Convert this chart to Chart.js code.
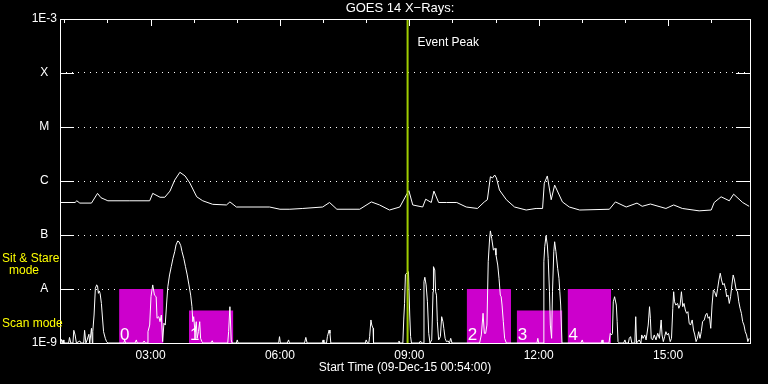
<!DOCTYPE html>
<html>
<head>
<meta charset="utf-8">
<title>GOES 14 X-Rays</title>
<script src="https://cdn.jsdelivr.net/npm/chart.js@4.4.0/dist/chart.umd.min.js"></script>
<style>
  html, body { margin: 0; padding: 0; background: #000; }
  #wrap { width: 768px; height: 384px; }
</style>
</head>
<body>
<div id="wrap"><canvas id="chart" width="768" height="384"></canvas></div>
<script>
// hours of day (09-Dec-15), flux in W/m^2
const startHour = 0.9;   // 00:54
const endHour = 16.9;
const eventPeak = 8.96;

const xTickValues = [3, 6, 9, 12, 15];
const xTickLabels = ['03:00', '06:00', '09:00', '12:00', '15:00'];
const yTickValues = [1e-9, 1e-8, 1e-7, 1e-6, 1e-5, 1e-4, 1e-3];
const yTickLabels = ['1E-9', 'A', 'B', 'C', 'M', 'X', '1E-3'];

// 1-8 Angstrom channel
const longTimes = [0.90, 1.25, 1.29, 1.36, 1.63, 1.77, 1.85, 2.01, 2.52, 2.98, 3.05, 3.22, 3.33, 3.45,
  3.56, 3.68, 3.80, 3.91, 4.07, 4.21, 4.44, 4.76, 4.84, 4.99, 5.76, 6.00, 6.23, 6.53, 6.99, 7.15,
  7.32, 7.85, 8.12, 8.31, 8.54, 8.78, 8.93, 8.99, 9.08, 9.31, 9.38, 9.51, 9.57, 9.68, 9.86, 10.10,
  10.32, 10.58, 10.74, 10.81, 10.88, 10.93, 10.98, 11.02, 11.09, 11.25, 11.44, 11.71, 11.94, 12.09,
  12.13, 12.20, 12.29, 12.37, 12.55, 12.71, 12.95, 13.64, 13.78, 14.03, 14.28, 14.40, 14.59, 14.95,
  15.13, 15.33, 15.72, 16.00, 16.07, 16.23, 16.42, 16.52, 16.73, 16.88];
const longFlux = [4.0e-7, 4.0e-7, 4.3e-7, 3.9e-7, 3.9e-7, 5.9e-7, 4.9e-7, 4.3e-7, 4.3e-7, 4.3e-7, 5.9e-7, 5.0e-7, 5.0e-7, 6.5e-7,
  1.04e-6, 1.45e-6, 1.24e-6, 9.2e-7, 5.1e-7, 4.3e-7, 3.7e-7, 3.6e-7, 4.1e-7, 3.3e-7, 3.3e-7, 3.0e-7, 3.0e-7, 3.1e-7, 3.3e-7, 4.0e-7,
  3.0e-7, 3.0e-7, 4.1e-7, 3.6e-7, 2.9e-7, 3.3e-7, 5.5e-7, 6.6e-7, 3.6e-7, 3.3e-7, 4.6e-7, 4.0e-7, 6.5e-7, 4.0e-7, 4.0e-7, 4.0e-7,
  3.3e-7, 3.1e-7, 4.1e-7, 4.5e-7, 1.2e-6, 1.14e-6, 1.29e-6, 1.14e-6, 6.8e-7, 4.5e-7, 3.3e-7, 2.9e-7, 3.1e-7, 3.1e-7,
  9.1e-7, 1.24e-6, 4.5e-7, 8.4e-7, 4.1e-7, 3.3e-7, 2.9e-7, 3.0e-7, 4.1e-7, 3.3e-7, 3.9e-7, 3.4e-7, 3.75e-7, 3.1e-7,
  3.6e-7, 3.1e-7, 2.8e-7, 2.9e-7, 4.0e-7, 5.1e-7, 4.3e-7, 5.7e-7, 4.0e-7, 3.4e-7];

// 0.5-4 Angstrom channel
const shortTimes = [0.90, 0.93, 0.95, 0.97, 0.99, 1.10, 1.12, 1.15, 1.20, 1.22, 1.25, 1.28, 1.36, 1.39, 1.45, 1.47, 1.50, 1.53, 1.57, 1.59,
  1.63, 1.65, 1.66, 1.69, 1.72, 1.75, 1.77, 1.79, 1.81, 1.83, 1.86, 1.88, 1.91, 1.95, 1.98, 2.01, 2.38, 2.40, 2.42, 2.64,
  2.67, 2.69, 2.82, 2.85, 2.88, 2.92, 2.94, 2.98, 3.01, 3.05, 3.09, 3.13, 3.15, 3.19, 3.22, 3.25, 3.28, 3.31, 3.34, 3.37,
  3.40, 3.44, 3.48, 3.52, 3.56, 3.59, 3.63, 3.66, 3.70, 3.73, 3.77, 3.81, 3.85, 3.89, 3.93, 3.96, 3.98, 4.00, 4.03, 4.06,
  4.08, 4.11, 4.14, 4.16, 4.19, 4.22, 4.40, 4.43, 4.45, 4.79, 4.81, 4.84, 4.87, 4.89, 4.99, 5.01, 5.03, 5.97, 5.99, 6.01,
  6.17, 6.20, 6.22, 6.57, 6.60, 6.63, 6.98, 7.00, 7.02, 7.08, 7.10, 7.14, 7.16, 7.18, 7.98, 8.00, 8.03, 8.06, 8.08, 8.11,
  8.13, 8.16, 8.17, 8.74, 8.76, 8.78, 8.85, 8.87, 8.89, 8.91, 8.98, 9.01, 9.03, 9.05, 9.23, 9.26, 9.28, 9.32, 9.34, 9.36,
  9.39, 9.42, 9.45, 9.48, 9.52, 9.55, 9.56, 9.59, 9.61, 9.63, 9.65, 9.68, 9.72, 9.75, 9.78, 9.80, 9.83, 9.86, 9.90, 9.93,
  9.96, 9.99, 10.63, 10.67, 10.71, 10.74, 10.77, 10.80, 10.83, 10.86, 10.88, 10.91, 10.95, 10.99, 11.01, 11.05, 11.08, 11.11, 11.13, 11.15,
  11.18, 11.21, 11.25, 11.96, 11.98, 12.00, 12.10, 12.12, 12.14, 12.17, 12.20, 12.22, 12.25, 12.27, 12.30, 12.32, 12.35, 12.37, 12.40, 12.44,
  12.47, 12.49, 12.51, 12.54, 12.98, 13.01, 13.03, 13.45, 13.47, 13.49, 13.63, 13.66, 13.69, 13.71, 13.73, 13.76, 13.80, 13.82, 13.84, 13.87,
  13.97, 14.00, 14.02, 14.08, 14.10, 14.13, 14.16, 14.23, 14.25, 14.27, 14.33, 14.37, 14.39, 14.42, 14.46, 14.49, 14.54, 14.57, 14.59, 14.61,
  14.64, 14.68, 14.72, 14.76, 14.80, 14.84, 14.86, 14.89, 14.92, 14.95, 14.98, 15.01, 15.05, 15.08, 15.11, 15.13, 15.15, 15.18, 15.22, 15.25,
  15.28, 15.31, 15.34, 15.37, 15.40, 15.43, 15.46, 15.49, 15.52, 15.56, 15.59, 15.62, 15.65, 15.68, 15.71, 15.74, 15.77, 15.80, 15.84, 15.87,
  15.90, 15.93, 15.96, 15.99, 16.02, 16.05, 16.08, 16.12, 16.15, 16.18, 16.21, 16.24, 16.27, 16.30, 16.33, 16.36, 16.39, 16.42, 16.45, 16.48,
  16.51, 16.54, 16.58, 16.61, 16.64, 16.67, 16.70, 16.73, 16.76, 16.79, 16.82, 16.85, 16.88];
const shortFlux = [1e-9, 1.17e-9, 1e-9, 1.14e-9, 1e-9, 1e-9, 1.27e-9, 1e-9, 1e-9, 1.72e-9, 1.41e-9, 1e-9, 1.09e-9, 1e-9, 1e-9, 1.72e-9, 1e-9, 1.14e-9, 1.45e-9, 1e-9,
  1.87e-9, 1e-9, 1.62e-9, 3.3e-9, 1.03e-8, 1.19e-8, 1.15e-8, 8.3e-9, 9.2e-9, 8.3e-9, 5.4e-9, 3.3e-9, 1.62e-9, 1.22e-9, 1.06e-9, 1e-9, 1e-9, 1.14e-9, 1e-9, 1e-9,
  1.14e-9, 1e-9, 1e-9, 1.09e-9, 1e-9, 1e-9, 1.62e-9, 2.15e-9, 7.2e-9, 1.19e-8, 7.7e-9, 7.2e-9, 2.87e-9, 3.07e-9, 2.48e-9, 3.3e-9, 1.06e-9, 2.32e-9, 2.15e-9, 5.05e-9,
  1.10e-8, 1.82e-8, 2.59e-8, 3.70e-8, 4.90e-8, 6.54e-8, 7.74e-8, 7.5e-8, 6.35e-8, 4.90e-8, 3.70e-8, 2.59e-8, 1.82e-8, 1.19e-8, 7.7e-9, 4.7e-9, 2.48e-9, 3.07e-9, 1.62e-9, 2.48e-9,
  1.22e-9, 1.62e-9, 2.48e-9, 1.22e-9, 1.06e-9, 1e-9, 1e-9, 1.1e-9, 1e-9, 1e-9, 1.62e-9, 4.7e-9, 1.14e-9, 1e-9, 1e-9, 1.14e-9, 1e-9, 1e-9, 1.31e-9, 1e-9,
  1e-9, 1.14e-9, 1e-9, 1e-9, 1.27e-9, 1e-9, 1e-9, 1.14e-9, 1e-9, 1e-9, 1.31e-9, 1.74e-9, 1.51e-9, 1e-9, 1e-9, 1.14e-9, 1e-9, 1e-9, 1.31e-9, 2.67e-9,
  2.15e-9, 1.87e-9, 1e-9, 1e-9, 1.09e-9, 1e-9, 1e-9, 2.67e-9, 5.4e-9, 1.86e-8, 2.09e-8, 3.3e-9, 1.31e-9, 1e-9, 1e-9, 1.09e-9, 1e-9, 1e-9, 1.37e-8, 1.65e-8,
  1.19e-8, 5.8e-9, 1.51e-9, 1e-9, 1.14e-9, 8.9e-9, 2.59e-8, 2.25e-8, 8.9e-9, 7.7e-9, 2.48e-9, 1.14e-9, 1.31e-9, 3.07e-9, 2.48e-9, 1.87e-9, 1.22e-9, 1.06e-9, 1.09e-9, 1e-9,
  1.22e-9, 1e-9, 1e-9, 1.41e-9, 3.55e-9, 1.51e-9, 1.51e-9, 2.15e-9, 3.20e-8, 8.08e-8, 1.19e-7, 8.7e-8, 5.27e-8, 5.66e-8, 4.26e-8, 2.78e-8, 1.58e-8, 7.7e-9, 7.2e-9, 5.05e-9,
  2.48e-9, 1.22e-9, 1e-9, 1e-9, 1.22e-9, 1e-9, 1e-9, 3.20e-8, 6.07e-8, 9.7e-8, 6.54e-8, 3.70e-8, 8.9e-9, 2.15e-9, 1.22e-9, 8.9e-9, 4.90e-8, 7.5e-8, 4.90e-8, 2.42e-8,
  1.58e-8, 8.9e-9, 5.05e-9, 1e-9, 1e-9, 1.14e-9, 1e-9, 1e-9, 1.14e-9, 1e-9, 1e-9, 1.51e-9, 1.41e-9, 1.51e-9, 5.8e-9, 7.2e-9, 5.05e-9, 2.48e-9, 1.06e-9, 1e-9,
  1e-9, 1.14e-9, 1e-9, 1e-9, 1.22e-9, 1.31e-9, 1e-9, 1e-9, 3.07e-9, 1e-9, 1.14e-9, 1e-9, 1.41e-9, 1.22e-9, 1.41e-9, 1.14e-9, 2.15e-9, 4.7e-9, 2.87e-9, 1.22e-9,
  1.14e-9, 1.41e-9, 1.14e-9, 1.51e-9, 1.22e-9, 2.67e-9, 1.41e-9, 1.06e-9, 1.31e-9, 1.62e-9, 1.41e-9, 1.51e-9, 1.06e-9, 1.22e-9, 4.39e-9, 8.9e-9, 5.8e-9, 5.05e-9, 5.4e-9, 4.39e-9,
  5.05e-9, 8.9e-9, 4.7e-9, 5.4e-9, 4.08e-9, 3.55e-9, 3.8e-9, 2.32e-9, 2.15e-9, 2.67e-9, 1.74e-9, 1.41e-9, 1.06e-9, 1.22e-9, 1.62e-9, 1.22e-9, 1.62e-9, 2.48e-9, 2.67e-9, 3.3e-9,
  3.55e-9, 2.87e-9, 3.07e-9, 1.87e-9, 5.05e-9, 9.6e-9, 8.9e-9, 7.2e-9, 1.03e-8, 1.47e-8, 1.96e-8, 1.47e-8, 1.19e-8, 1.27e-8, 1.03e-8, 7.2e-9, 7.7e-9, 5.4e-9, 7.2e-9, 1.19e-8,
  1.82e-8, 1.47e-8, 9.6e-9, 8.9e-9, 5.8e-9, 4.39e-9, 3.55e-9, 2.48e-9, 2.15e-9, 1.62e-9, 1.41e-9, 1.06e-9, 1.22e-9];

// observing windows: 0,2,4 sit & stare, 1,3 scan
const boxLabels = ['0', '1', '2', '3', '4'];
const boxStart = [2.27, 3.89, 10.33, 11.49, 12.67];
const boxEnd = [3.30, 4.92, 11.36, 12.55, 13.68];
const boxTop = [1e-8, 4e-9, 1e-8, 4e-9, 1e-8];

const ctx = document.getElementById('chart');
Chart.defaults.font.family = "'Liberation Sans', Arial, sans-serif";
Chart.defaults.font.size = 12;
Chart.defaults.color = '#fff';

const pts = (xs, ys) => xs.map((t, i) => ({ x: t, y: ys[i] }));

const datasets = [];
datasets.push({
  data: [{ x: eventPeak, y: 1e-9 }, { x: eventPeak, y: 1e-3 }],
  borderColor: '#9fcc00', borderWidth: 2, pointRadius: 0, order: 0
});
datasets.push({
  data: pts(longTimes, longFlux),
  borderColor: '#fff', borderWidth: 1, pointRadius: 0, order: 1
});
datasets.push({
  data: pts(shortTimes, shortFlux),
  borderColor: '#fff', borderWidth: 1, pointRadius: 0, order: 1
});
boxStart.forEach((s, i) => {
  datasets.push({
    data: [{ x: s, y: boxTop[i] }, { x: boxEnd[i], y: boxTop[i] }],
    borderColor: 'rgba(0,0,0,0)', borderWidth: 0, pointRadius: 0,
    backgroundColor: '#cc00cc', fill: 'start', order: 2
  });
});

// frame, tick stubs and the text that IDL puts round the plot
const decor = {
  id: 'decor',
  afterDatasetsDraw(chart) {
    const { ctx, chartArea: a, scales: { x, y } } = chart;
    ctx.save();
    ctx.fillStyle = '#fff';
    ctx.textBaseline = 'alphabetic';
    ctx.textAlign = 'left';
    ctx.font = "17px 'Liberation Sans'";
    boxLabels.forEach((lab, i) => {
      ctx.fillText(lab, x.getPixelForValue(boxStart[i]) + 1, 340);
    });
    ctx.restore();
  },
  afterDraw(chart) {
    const { ctx, chartArea: a, scales: { x, y } } = chart;
    ctx.save();
    ctx.strokeStyle = '#fff';
    ctx.lineWidth = 1;
    ctx.strokeRect(a.left + 0.5, a.top + 0.5, a.right - a.left, a.bottom - a.top);
    ctx.beginPath();
    yTickValues.forEach(v => {
      const py = Math.round(y.getPixelForValue(v)) + 0.5;
      ctx.moveTo(a.left, py); ctx.lineTo(a.left + 14, py);
      ctx.moveTo(a.right - 14, py); ctx.lineTo(a.right + 1, py);
    });
    for (let h = Math.ceil(startHour); h <= endHour; h++) {
      const px = Math.round(x.getPixelForValue(h)) + 0.5;
      ctx.moveTo(px, a.top); ctx.lineTo(px, a.top + (h % 3 === 0 ? 7 : 4));
    }
    ctx.stroke();

    ctx.fillStyle = '#fff';
    ctx.textBaseline = 'middle';
    ctx.textAlign = 'center';
    ctx.font = "13px 'Liberation Sans'";
    ctx.fillText('GOES 14 X\u2212Rays:', 400, 8);
    ctx.font = "12px 'Liberation Sans'";
    ctx.fillText('Start Time (09-Dec-15 00:54:00)', (a.left + a.right) / 2, 368);
    ctx.textAlign = 'left';
    ctx.fillText('Event Peak', x.getPixelForValue(eventPeak) + 10, 43);

    ctx.fillStyle = '#ffff00';
    ctx.fillText('Sit & Stare', 2, 259);
    ctx.fillText('Scan mode', 2, 324);
    ctx.textAlign = 'center';
    ctx.fillText('mode', 24, 271);
    ctx.restore();
  }
};

new Chart(ctx, {
  type: 'line',
  data: { datasets },
  plugins: [decor],
  options: {
    responsive: false,
    animation: false,
    layout: { padding: { top: 19, right: 18, left: 0, bottom: 0 } },
    plugins: { legend: { display: false }, tooltip: { enabled: false } },
    elements: { line: { tension: 0 } },
    scales: {
      x: {
        type: 'linear', min: startHour, max: endHour,
        afterBuildTicks: s => { s.ticks = xTickValues.map(v => ({ value: v })); },
        afterFit: s => { s.height = 41; },
        grid: { display: false, drawTicks: false },
        border: { display: false },
        ticks: { color: '#fff', padding: 5, maxRotation: 0, autoSkip: false,
          callback: (v, i) => xTickLabels[i] }
      },
      y: {
        type: 'logarithmic', min: 1e-9, max: 1e-3,
        afterBuildTicks: s => { s.ticks = yTickValues.map(v => ({ value: v })); },
        afterFit: s => { s.width = 60; },
        grid: { color: '#fff', drawTicks: false, lineWidth: 1 },
        border: { display: false, dash: [1, 5] },
        ticks: { color: '#fff', padding: 3, crossAlign: 'center', autoSkip: false,
          callback: (v, i) => yTickLabels[i] }
      }
    }
  }
});
</script>
</body>
</html>
